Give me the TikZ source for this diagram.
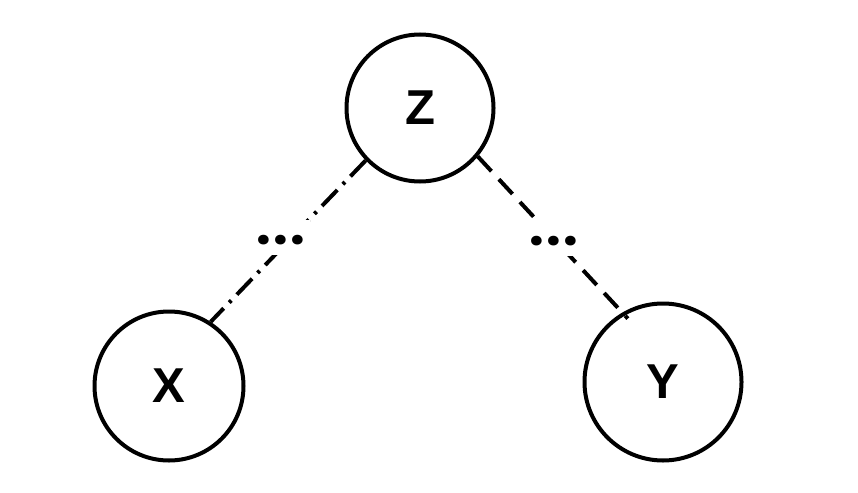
\documentclass[tikz,border=0pt]{standalone}
\usepackage{fontspec}
\setmainfont{Liberation Sans}
\newfontfamily\dotfont{Poppins}
\usetikzlibrary{calc}
\begin{document}
\begin{tikzpicture}[x=1pt,y=-1pt,
  var/.style={circle,draw=black,line width=4pt,inner sep=0pt,
    font=\fontsize{49}{49}\selectfont\bfseries},
  link/.style={line width=4pt,black},
  dotlbl/.style={fill=white,inner xsep=4pt,inner ysep=4pt,text height=21pt,text depth=6pt,
    font=\fontsize{52}{52}\dotfont\bfseries,anchor=base}]
\useasboundingbox (0,0) rectangle (858,492);
\node[var,minimum size=147pt] (Z) at (420,108) {Z};
\node[var,minimum size=149pt] (X) at (169,386) {X};
\node[var,minimum size=157pt] (Y) at (663,382) {Y};
\draw[link,dash pattern=on 22pt off 8pt on 3pt off 8pt] (Z.224) -- (X.57);
\draw[link,dash pattern=on 20pt off 11pt] (Z.320) -- ($(Y.119)!8pt!(Y.center)$);
\node[dotlbl] (d1) at (281,244.5) {.\kern2.5pt.\kern2.5pt.};
\node[dotlbl] (d2) at (554,245.5) {.\kern2.5pt.\kern2.5pt.};
\end{tikzpicture}
\end{document}
